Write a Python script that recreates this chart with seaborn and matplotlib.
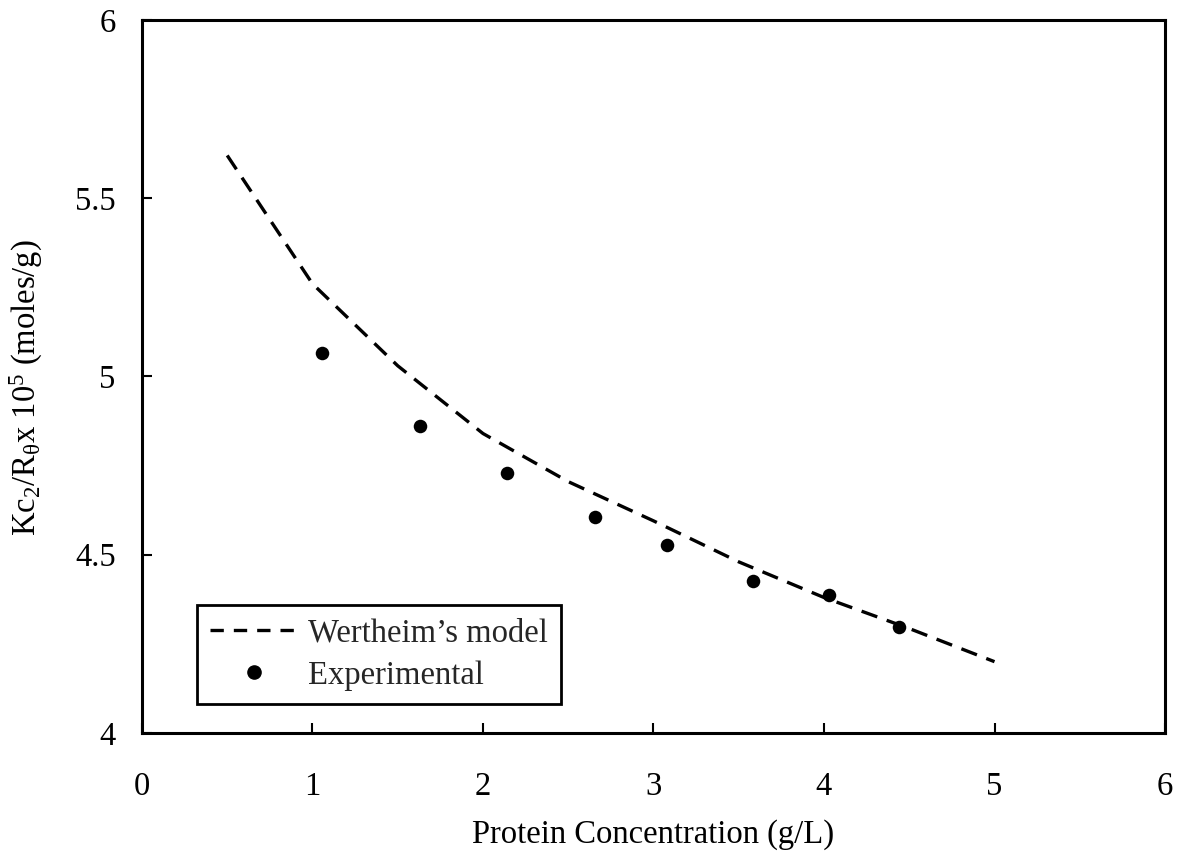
import matplotlib
matplotlib.use("Agg")
import matplotlib.pyplot as plt
import seaborn as sns
import pandas as pd
from matplotlib.lines import Line2D

# Data
model_x = [0.5, 1.0, 1.5, 2.0, 2.5, 3.0, 3.5, 4.0, 4.5, 5.0]
model_y = [5.62, 5.26, 5.03, 4.84, 4.705, 4.595, 4.48, 4.38, 4.293, 4.20]

exp_x = [1.057, 1.632, 2.141, 2.657, 3.077, 3.582, 4.031, 4.442]
exp_y = [5.065, 4.860, 4.730, 4.607, 4.527, 4.427, 4.388, 4.297]

x_ticks = [0, 1, 2, 3, 4, 5, 6]
y_ticks = [4, 4.5, 5, 5.5, 6]
y_tick_labels = ["4", "4.5", "5", "5.5", "6"]

x_label = "Protein Concentration (g/L)"
y_label = r"Kc$_2$/R$_\theta$x 10$^5$ (moles/g)"
legend_labels = ["Wertheim\u2019s model", "Experimental"]

sns.set_theme(style="white")
plt.rcParams["font.family"] = ["Liberation Serif", "DejaVu Serif"]
plt.rcParams["mathtext.fontset"] = "custom"
plt.rcParams["mathtext.rm"] = "Liberation Serif"
plt.rcParams["mathtext.it"] = "Liberation Serif:italic"
plt.rcParams["mathtext.default"] = "rm"

FS = 23.5

fig = plt.figure(figsize=(11.9, 8.61), dpi=100)
ax = fig.add_axes([0.1193, 0.1487, 0.8597, 0.8281])

df_model = pd.DataFrame({"x": model_x, "y": model_y})
df_exp = pd.DataFrame({"x": exp_x, "y": exp_y})

sns.lineplot(data=df_model, x="x", y="y", ax=ax, color="black",
             linewidth=2.4, sort=False)
ax.lines[0].set_dashes((5, 3))
sns.scatterplot(data=df_exp, x="x", y="y", ax=ax, color="black",
                s=95, edgecolor="black", linewidth=0, zorder=3)

ax.set_xlim(0, 6)
ax.set_ylim(4, 6)
ax.set_xticks(x_ticks)
ax.set_yticks(y_ticks)
ax.set_yticklabels(y_tick_labels)
ax.tick_params(axis="both", which="major", direction="in", length=7,
               width=1.5, color="black", labelsize=FS, labelcolor="black",
               bottom=True, left=True, top=False, right=False)
ax.tick_params(axis="x", pad=28)
ax.tick_params(axis="y", pad=19)

for sp in ax.spines.values():
    sp.set_visible(True)
    sp.set_color("black")
    sp.set_linewidth(2.2)

ax.set_xlabel(x_label, fontsize=FS, color="black", labelpad=12)
ax.set_ylabel(y_label, fontsize=FS, color="black")
ax.yaxis.set_label_coords(-0.095, 0.484)

handles = [
    Line2D([0], [0], color="black", linewidth=2.4, dashes=(4, 3)),
    Line2D([0], [0], color="black", marker="o", linestyle="none",
           markersize=9.5),
]
leg = ax.legend(handles, legend_labels, loc="lower left",
                bbox_to_anchor=(0.054, 0.041), borderaxespad=0,
                fontsize=FS, frameon=True, fancybox=False, shadow=False,
                handlelength=2.7, handletextpad=0.3, borderpad=0.4,
                labelspacing=0.35)
leg.get_frame().set_edgecolor("black")
leg.get_frame().set_linewidth(2.0)
leg.get_frame().set_alpha(1)

fig.savefig("out.png", dpi=100, facecolor="white")
